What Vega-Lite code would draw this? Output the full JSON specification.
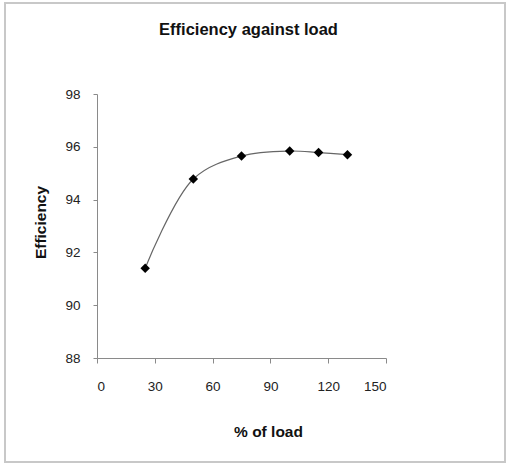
{
  "$schema": "https://vega.github.io/schema/vega-lite/v6.json",
  "width": 289,
  "height": 264,
  "autosize": {"type": "none"},
  "padding": {"left": 97, "top": 94, "right": 124, "bottom": 109},
  "background": "white",
  "config": {
    "view": {"stroke": null},
    "font": "Liberation Sans",
    "axis": {
      "grid": false,
      "domainColor": "#8a8a8a",
      "tickColor": "#8a8a8a",
      "tickSize": 5,
      "labelColor": "#222",
      "labelFontSize": 13.5,
      "labelFont": "Liberation Sans",
      "titleFont": "Liberation Sans",
      "titleFontSize": 15.5,
      "titleFontWeight": "bold",
      "titleColor": "#111"
    }
  },
  "title": {
    "text": "Efficiency against load",
    "fontSize": 16.5,
    "fontWeight": "bold",
    "font": "Liberation Sans",
    "color": "#111",
    "anchor": "middle",
    "frame": "group",
    "offset": -36,
    "dx": 7
  },
  "data": {
    "values": [
      {"load": 25, "efficiency": 91.4},
      {"load": 50, "efficiency": 94.78},
      {"load": 75, "efficiency": 95.65},
      {"load": 100, "efficiency": 95.84},
      {"load": 115, "efficiency": 95.78},
      {"load": 130, "efficiency": 95.7}
    ]
  },
  "layer": [
    {
      "mark": {"type": "rect", "fill": null, "stroke": "#c8c8c8", "strokeWidth": 1.5, "clip": false},
      "encoding": {
        "x": {"datum": -47.7},
        "x2": {"datum": 211.8},
        "y": {"datum": 101.45},
        "y2": {"datum": 84.05}
      }
    },
    {
      "mark": {"type": "line", "interpolate": "catmull-rom", "color": "#666", "strokeWidth": 1.2},
      "encoding": {
        "x": {
          "field": "load", "type": "quantitative",
          "scale": {"domain": [0, 150], "nice": false},
          "axis": {"values": [0, 30, 60, 90, 120, 150], "title": "% of load", "labelPadding": 16, "titleX": 171, "titleY": 66}
        },
        "y": {
          "field": "efficiency", "type": "quantitative",
          "scale": {"domain": [88, 98], "nice": false, "zero": false},
          "axis": {"values": [88, 90, 92, 94, 96, 98], "title": "Efficiency", "tickSize": 4, "labelPadding": 13, "titleX": -57, "titleY": 128, "titleBaseline": "middle"}
        }
      }
    },
    {
      "mark": {"type": "point", "shape": "diamond", "filled": true, "color": "#000", "size": 90, "opacity": 1},
      "encoding": {
        "x": {"field": "load", "type": "quantitative"},
        "y": {"field": "efficiency", "type": "quantitative"}
      }
    }
  ]
}
